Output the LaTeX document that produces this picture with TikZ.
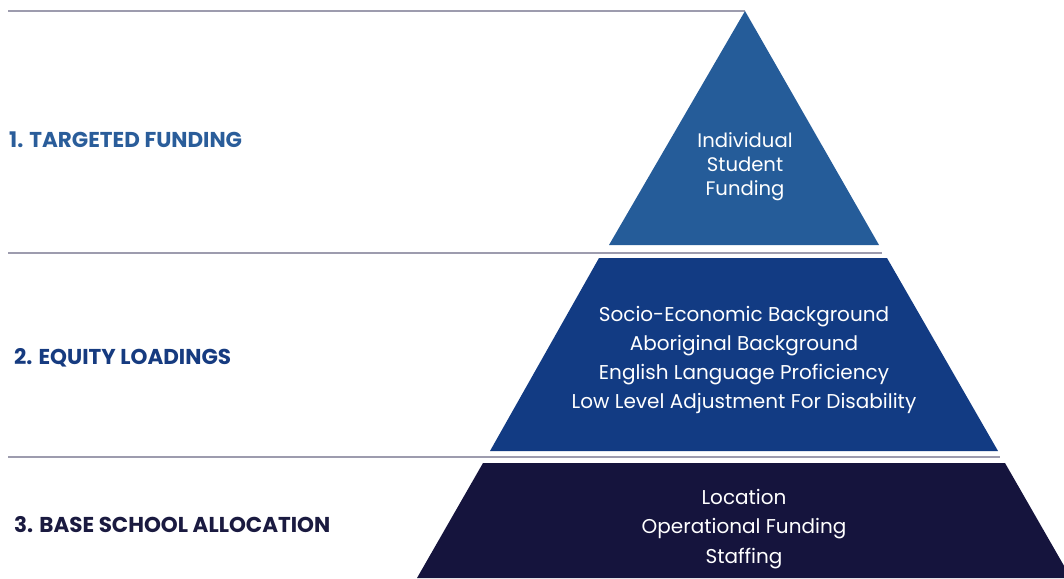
\documentclass[tikz,border=0pt]{standalone}
\usepackage{fontspec}
\setmainfont{Poppins}
\definecolor{tierA}{HTML}{255C99}
\definecolor{tierB}{HTML}{123B83}
\definecolor{tierC}{HTML}{15143D}
\definecolor{sepline}{HTML}{9D9CAE}
\definecolor{labA}{HTML}{2A5D9A}
\definecolor{labB}{HTML}{163B80}
\definecolor{labC}{HTML}{1A1A40}
\tikzset{
  sep/.style={draw=sepline, line width=1.6pt},
  inner/.style={text=white, align=center, font=\fontsize{19.6}{24}\selectfont, inner sep=0pt},
  innerwide/.style={text=white, align=center, font=\fontsize{20}{29.3}\selectfont, inner sep=0pt},
  tierlabel/.style={anchor=west, inner sep=0pt, font=\fontsize{21.5}{23}\selectfont\bfseries}
}
\begin{document}
\begin{tikzpicture}[x=1pt,y=-1pt]
\useasboundingbox (0,0) rectangle (1064,578);
% separators
\coordinate (apex) at (745,11);
\coordinate (l1s) at (8,11);
\coordinate (l2s) at (8,253);
\coordinate (l2e) at (882,253);
\coordinate (l3s) at (8,457);
\coordinate (l3e) at (1000,457);
\draw[sep] (l1s) -- (apex);
\draw[sep] (l2s) -- (l2e);
\draw[sep] (l3s) -- (l3e);
% tiers
\fill[tierA] (apex) -- (879,245) -- (609,245) -- cycle;
\fill[tierB] (599,258) -- (887,258) -- (998,451) -- (490,451) -- cycle;
\fill[tierC] (483,463) -- (1005,463) -- (1071,578) -- (417,578) -- cycle;
% tier texts
\node[inner] (t1) at (745,167) {Individual\\Student\\Funding};
\node[innerwide] (t2) at (744,360) {Socio-Economic Background\\Aboriginal Background\\English Language Proficiency\\Low Level Adjustment For Disability};
\node[innerwide] (t3) at (744,529) {Location\\Operational Funding\\Staffing};
% labels
\node[tierlabel, text=labA] (lab1) at (9,140) {1. TARGETED FUNDING};
\node[tierlabel, text=labB] (lab2) at (14,358) {2. EQUITY LOADINGS};
\node[tierlabel, text=labC] (lab3) at (14,525) {3. BASE SCHOOL ALLOCATION};
\end{tikzpicture}
\end{document}
